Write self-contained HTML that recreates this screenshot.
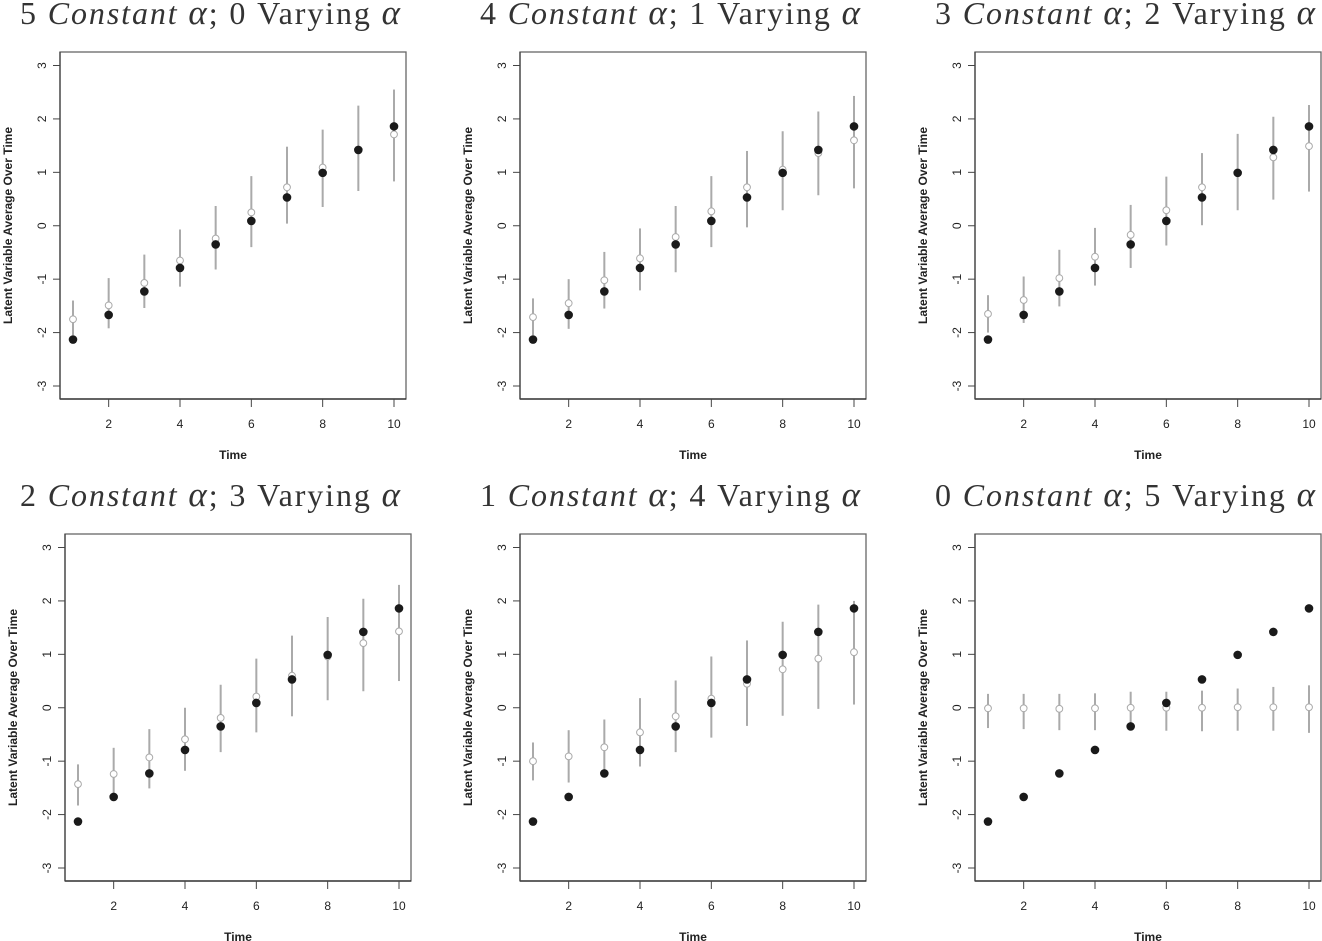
<!DOCTYPE html>
<html><head><meta charset="utf-8"><style>
body{margin:0;background:#fff;}
svg{display:block;}
</style></head><body>
<svg id="fig" width="1322" height="941" viewBox="0 0 1322 941" xmlns="http://www.w3.org/2000/svg"></svg>
<script>
const timePoints = [1,2,3,4,5,6,7,8,9,10];
const trueMeans = [-2.13,-1.67,-1.23,-0.79,-0.35,0.09,0.53,0.99,1.42,1.86];
const panelTitles = [["5","0"],["4","1"],["3","2"],["2","3"],["1","4"],["0","5"]];
const estP1 = [-1.75,-1.49,-1.07,-0.65,-0.24,0.25,0.72,1.09,1.42,1.71];
const loP1 = [-2.05,-1.92,-1.54,-1.14,-0.82,-0.40,0.04,0.35,0.65,0.83];
const hiP1 = [-1.40,-0.98,-0.54,-0.07,0.37,0.93,1.48,1.80,2.25,2.55];
const estP2 = [-1.71,-1.45,-1.02,-0.61,-0.21,0.27,0.72,1.05,1.36,1.60];
const loP2 = [-2.05,-1.93,-1.55,-1.21,-0.87,-0.40,-0.03,0.29,0.57,0.70];
const hiP2 = [-1.36,-1.00,-0.49,-0.05,0.37,0.93,1.40,1.77,2.14,2.43];
const estP3 = [-1.65,-1.39,-0.98,-0.58,-0.17,0.29,0.72,1.00,1.28,1.49];
const loP3 = [-2.00,-1.82,-1.51,-1.12,-0.79,-0.37,0.01,0.29,0.49,0.64];
const hiP3 = [-1.30,-0.95,-0.45,-0.04,0.39,0.92,1.36,1.72,2.04,2.26];
const estP4 = [-1.43,-1.24,-0.93,-0.59,-0.19,0.21,0.60,0.96,1.21,1.43];
const loP4 = [-1.83,-1.67,-1.51,-1.18,-0.83,-0.46,-0.16,0.14,0.31,0.50];
const hiP4 = [-1.06,-0.75,-0.40,0.00,0.43,0.92,1.35,1.70,2.04,2.30];
const estP5 = [-1.00,-0.91,-0.74,-0.46,-0.16,0.17,0.45,0.72,0.92,1.04];
const loP5 = [-1.36,-1.40,-1.30,-1.10,-0.83,-0.56,-0.34,-0.15,-0.02,0.06];
const hiP5 = [-0.65,-0.42,-0.22,0.18,0.51,0.96,1.26,1.61,1.93,2.00];
const estP6 = [-0.01,-0.01,-0.02,-0.01,0.00,0.00,0.00,0.01,0.01,0.01];
const loP6 = [-0.38,-0.40,-0.42,-0.42,-0.41,-0.43,-0.44,-0.43,-0.43,-0.47];
const hiP6 = [0.26,0.26,0.26,0.27,0.30,0.30,0.32,0.36,0.39,0.42];
const yTicks = [-3,-2,-1,0,1,2,3];
const xTicks = [2,4,6,8,10];

const est=[estP1,estP2,estP3,estP4,estP5,estP6], lo=[loP1,loP2,loP3,loP4,loP5,loP6], hi=[hiP1,hiP2,hiP3,hiP4,hiP5,hiP6];
const lefts=[60,520,975,65,520,975], tops=[52,52,52,534,534,534];
const titleX=[20,480,935,20,480,935];
const NS="http://www.w3.org/2000/svg";
const svg=document.getElementById('fig');
function mk(tag,attrs,parent){const e=document.createElementNS(NS,tag);for(const k in attrs)e.setAttribute(k,attrs[k]);(parent||svg).appendChild(e);return e;}
for(let p=0;p<6;p++){
  const L=lefts[p],T=tops[p],W=346,H=347;
  const g=mk('g',{});
  
  
  const xs=v=>L+13+(v-1)*(321/9);
  const ys=v=>T+13.5+(3-v)*(320.5/6);
  const t=mk('text',{x:titleX[p],y:T-28,'text-anchor':'start','font-family':'"Liberation Serif",serif','font-size':'32',fill:'#333',textLength:380,lengthAdjust:'spacing'},g);
  
  
  t.innerHTML=panelTitles[p][0]+' <tspan font-style="italic">Constant</tspan>  <tspan font-style="italic" font-size="35">α</tspan>; '+panelTitles[p][1]+' Varying <tspan font-style="italic" font-size="35">α</tspan>';
  const box=mk('rect',{x:L,y:T,width:W,height:H,fill:'none',stroke:'#666','stroke-width':1.3},g);
  
  
  mk('line',{x1:L,y1:T+H,x2:L+W,y2:T+H,stroke:'#222','stroke-width':1.3},g);
  mk('line',{x1:L,y1:T,x2:L,y2:T+H,stroke:'#444','stroke-width':1.3},g);
  yTicks.forEach(v=>{
    const y=ys(v);
    mk('line',{x1:L-7,y1:y,x2:L,y2:y,stroke:'#444','stroke-width':1},g);
    const tl=mk('text',{x:0,y:0,transform:`translate(${L-18},${y}) rotate(-90)`,'text-anchor':'middle','dominant-baseline':'central','font-family':'"Liberation Sans",sans-serif','font-size':'12',fill:'#222'},g);
    
    
    tl.textContent=v;
  });
  xTicks.forEach(v=>{
    const x=xs(v);
    mk('line',{x1:x,y1:T+H,x2:x,y2:T+H+8,stroke:'#444','stroke-width':1},g);
    const tl=mk('text',{x:x,y:T+H+29,'text-anchor':'middle','font-family':'"Liberation Sans",sans-serif','font-size':'12',fill:'#222'},g);
    
    
    tl.textContent=v;
  });
  const xt=mk('text',{x:L+W/2,y:T+H+60,'text-anchor':'middle','font-family':'"Liberation Sans",sans-serif','font-size':'12','font-weight':'bold',fill:'#222'},g);
  
  
  xt.textContent='Time';
  const yt=mk('text',{x:0,y:0,transform:`translate(${L-52},${T+H/2}) rotate(-90)`,'text-anchor':'middle','dominant-baseline':'central','font-family':'"Liberation Sans",sans-serif','font-size':'12','font-weight':'bold',fill:'#222'},g);
  
  
  yt.textContent='Latent Variable Average Over Time';
  timePoints.forEach((tp,i)=>{
    const x=xs(tp);
    const eb=mk('line',{x1:x,y1:ys(lo[p][i]),x2:x,y2:ys(hi[p][i]),stroke:'#aaa','stroke-width':2},g);
    
    
    const ep=mk('circle',{cx:x,cy:ys(est[p][i]),r:3.4,fill:'#fff',stroke:'#aaa','stroke-width':1},g);
    
    
  });
  timePoints.forEach((tp,i)=>{
    const tp2=mk('circle',{cx:xs(tp),cy:ys(trueMeans[i]),r:4.3,fill:'#1a1a1a'},g);
    
    
  });
}
</script>
</body></html>
